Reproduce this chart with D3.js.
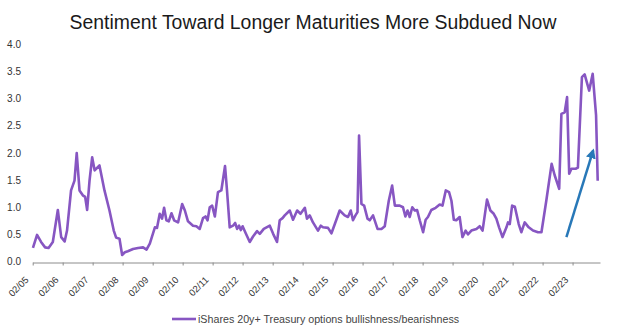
<!DOCTYPE html>
<html>
<head>
<meta charset="utf-8">
<script src="https://cdn.jsdelivr.net/npm/d3@7"></script>
<style>
  body { margin: 0; background: #fff; }
  svg { display: block; font-family: "Liberation Sans", Arial, sans-serif; }
</style>
</head>
<body>
<svg id="sentiment-chart"></svg>
<script>
// iShares 20y+ Treasury options, bullishness/bearishness ratio
const dates = [
  "2005-02-04", "2005-03-26", "2005-05-14", "2005-07-02", "2005-08-13", "2005-10-04", "2005-12-04",
  "2006-01-14", "2006-02-25", "2006-03-26", "2006-05-14", "2006-06-25", "2006-07-22", "2006-08-25",
  "2006-10-04", "2006-11-02", "2006-11-26", "2006-12-25", "2007-01-26", "2007-02-25", "2007-04-25",
  "2007-06-25", "2007-08-25", "2007-10-16", "2007-11-14", "2007-12-25", "2008-01-26", "2008-02-28",
  "2008-04-04", "2008-06-07", "2008-08-07", "2008-10-07", "2008-11-18", "2008-12-28", "2009-02-28",
  "2009-03-26", "2009-04-28", "2009-05-26", "2009-06-20", "2009-07-18", "2009-08-16", "2009-09-18",
  "2009-10-20", "2009-12-07", "2010-01-26", "2010-02-28", "2010-04-07", "2010-06-07", "2010-07-18",
  "2010-08-28", "2010-10-07", "2010-11-06", "2010-12-01", "2010-12-28", "2011-01-26", "2011-02-28",
  "2011-04-07", "2011-05-18", "2011-07-02", "2011-07-26", "2011-08-28", "2011-10-07", "2011-11-02",
  "2011-11-26", "2011-12-20", "2012-01-10", "2012-02-01", "2012-03-10", "2012-04-28", "2012-06-07",
  "2012-07-26", "2012-08-28", "2012-10-16", "2012-12-28", "2013-02-07", "2013-03-26", "2013-04-28",
  "2013-06-01", "2013-06-28", "2013-08-28", "2013-10-07", "2013-11-26", "2014-01-06", "2014-02-28",
  "2014-03-26", "2014-04-28", "2014-06-07", "2014-08-07", "2014-09-10", "2014-10-07", "2014-12-07",
  "2015-01-18", "2015-02-28", "2015-04-28", "2015-06-28", "2015-08-07", "2015-09-10", "2015-10-07",
  "2015-11-06", "2015-12-01", "2015-12-20", "2016-01-18", "2016-02-20", "2016-04-01", "2016-04-28",
  "2016-06-07", "2016-08-01", "2016-09-18", "2016-10-28", "2016-12-16", "2017-01-26", "2017-02-28",
  "2017-04-28", "2017-06-07", "2017-07-06", "2017-08-01", "2017-08-28", "2017-09-28", "2017-10-28",
  "2017-11-26", "2017-12-28", "2018-02-07", "2018-03-10", "2018-04-07", "2018-05-18", "2018-07-10",
  "2018-08-28", "2018-10-01", "2018-11-10", "2018-12-20", "2019-01-18", "2019-02-16", "2019-03-18",
  "2019-04-28", "2019-06-01", "2019-07-10", "2019-08-07", "2019-09-18", "2019-11-18", "2019-12-28",
  "2020-02-01", "2020-03-26", "2020-05-06", "2020-06-16", "2020-07-18", "2020-08-20", "2020-10-01",
  "2020-11-18", "2020-12-07", "2020-12-28", "2021-01-26", "2021-02-28", "2021-04-16", "2021-05-18",
  "2021-06-28", "2021-08-16", "2021-10-07", "2021-12-07", "2022-01-18", "2022-03-18", "2022-05-22",
  "2022-06-28", "2022-08-22", "2022-09-18", "2022-10-28", "2022-11-26", "2022-12-22", "2023-01-18",
  "2023-03-10", "2023-04-07", "2023-05-26", "2023-06-28", "2023-08-22", "2023-10-04", "2023-11-14",
  "2023-12-04"
];
const ratios = [
  0.25, 0.49, 0.36, 0.26, 0.25, 0.36, 0.95,
  0.45, 0.37, 0.57, 1.31, 1.49, 2.00, 1.31,
  1.22, 1.19, 0.95, 1.49, 1.92, 1.68, 1.77,
  1.31, 0.94, 0.57, 0.44, 0.42, 0.12, 0.17,
  0.19, 0.23, 0.25, 0.26, 0.22, 0.33, 0.63,
  0.62, 0.88, 0.79, 0.99, 0.76, 0.74, 0.89,
  0.76, 0.72, 1.06, 0.94, 0.74, 0.66, 0.65,
  0.60, 0.80, 0.83, 0.76, 1.00, 1.03, 0.83,
  1.28, 1.31, 1.76, 1.31, 0.63, 0.66, 0.71,
  0.60, 0.66, 0.58, 0.65, 0.52, 0.36, 0.46,
  0.56, 0.51, 0.60, 0.66, 0.51, 0.36, 0.76,
  0.80, 0.85, 0.94, 0.77, 0.94, 0.88, 0.99,
  0.79, 0.85, 0.72, 0.57, 0.66, 0.63, 0.62,
  0.52, 0.69, 0.94, 0.85, 0.82, 0.94, 0.76,
  0.85, 0.91, 2.32, 1.06, 1.03, 0.79, 0.76,
  0.85, 0.60, 0.60, 0.65, 1.12, 1.40, 1.03,
  1.03, 1.00, 0.83, 0.94, 0.82, 1.00, 0.94,
  0.95, 0.76, 0.54, 0.77, 0.82, 0.95, 0.99,
  1.05, 1.03, 1.31, 1.28, 1.12, 0.77, 0.76,
  0.82, 0.45, 0.57, 0.50, 0.57, 0.60, 0.65,
  0.57, 1.14, 0.94, 0.88, 0.79, 0.63, 0.45,
  0.63, 0.72, 0.69, 1.03, 1.01, 0.69, 0.54,
  0.72, 0.63, 0.57, 0.54, 0.54, 1.12, 1.80,
  1.59, 1.34, 2.72, 2.75, 3.03, 1.62, 1.71,
  1.71, 1.73, 3.40, 3.45, 3.15, 3.46, 2.70,
  1.49
];
const yTicks = [0, 0.5, 1, 1.5, 2, 2.5, 3, 3.5, 4];
const tickYears = [2005, 2006, 2007, 2008, 2009, 2010, 2011, 2012, 2013, 2014,
  2015, 2016, 2017, 2018, 2019, 2020, 2021, 2022, 2023];
// trend arrow, start and end
const arrowDates = ["2022-11-18", "2023-10-10"];
const arrowValues = [0.45, 2.05];
const titleText = "Sentiment Toward Longer Maturities More Subdued Now";
const legendText = "iShares 20y+ Treasury options bullishness/bearishness";

class SentimentChart {
  constructor() {
    var parseDate = d3.timeParse("%Y-%m-%d");
    this.data = dates.map(function(d, i) {
      return {date: parseDate(d), value: +ratios[i]};
    });
    this.arrow = arrowDates.map(function(d, i) {
      return {date: parseDate(d), value: arrowValues[i]};
    });
    this.lineColour = "#8756c2";
    this.arrowColour = "#2878b8";
  }

  build() {
    this.buildGraph();
    this.addAxis();
    this.addLine();
    this.addArrow();
    this.addLegend();
  }

  buildGraph() {
    this.width = 620;
    this.height = 332;
    this.svg = d3.select("#sentiment-chart")
        .attr("width", this.width)
        .attr("height", this.height);

    this.x = d3.scaleTime()
        .domain([new Date(2005, 1, 1), new Date(2024, 0, 1)])
        .range([32.7, 600]);
    this.y = d3.scaleLinear()
        .domain([0, 4])
        .range([261.5, 44.5]);

    this.svg.append("text")
        .attr("x", 313)
        .attr("y", 29)
        .attr("text-anchor", "middle")
        .style("font-size", "19.4px")
        .style("fill", "#1a1a1a")
        .text(titleText);
  }

  addAxis() {
    const svg = this.svg;
    const ticks = tickYears.map(function(yr) { return new Date(yr, 1, 1); });

    // bottom axis, labels turned 45 degrees
    const xAxis = svg.append("g")
        .attr("class", "sentiment__x-axis")
        .attr("transform", `translate(0, ${this.y(0) + 1})`)
        .call(d3.axisBottom(this.x)
            .tickValues(ticks)
            .tickSize(3)
            .tickSizeOuter(0)
            .tickFormat(d3.timeFormat("%m/%y")));
    xAxis.select(".domain").attr("stroke", "#8c8c8c");
    xAxis.selectAll(".tick line").attr("stroke", "#8c8c8c");
    xAxis.selectAll(".tick text")
        .attr("x", 0)
        .attr("y", 0)
        .attr("dy", 0)
        .attr("transform", "translate(-4, 18) rotate(-45)")
        .attr("text-anchor", "end")
        .style("font-family", "'Liberation Sans', Arial, sans-serif")
        .style("font-size", "9.5px")
        .style("fill", "#333");

    // value labels only, no axis line
    const yLabels = svg.append("g").attr("class", "sentiment__y-labels");
    for (var i = 0; i < yTicks.length; i++) {
      yLabels.append("text")
          .attr("x", 21)
          .attr("y", this.y(yTicks[i]))
          .attr("dy", "0.35em")
          .attr("text-anchor", "end")
          .style("font-size", "10px")
          .style("fill", "#333")
          .text(d3.format(".1f")(yTicks[i]));
    }
  }

  addLine() {
    var chart = this;
    chart.ratioLine = d3.line()
        .x(function(d) { return chart.x(d.date); })
        .y(function(d) { return chart.y(d.value); });

    chart.svg.append("path")
        .data([chart.data])
        .attr("class", "sentiment__line")
        .style("stroke", chart.lineColour)
        .style("fill", "none")
        .style("stroke-width", 2.6)
        .style("stroke-linejoin", "round")
        .attr("d", chart.ratioLine);
  }

  addArrow() {
    var chart = this;
    chart.svg.append("defs").append("marker")
        .attr("id", "arrow-head")
        .attr("viewBox", "0 0 10 10")
        .attr("refX", 8)
        .attr("refY", 5)
        .attr("markerWidth", 4)
        .attr("markerHeight", 4)
        .attr("orient", "auto")
      .append("path")
        .attr("d", "M0,0 L10,5 L0,10 z")
        .style("fill", chart.arrowColour);

    chart.svg.append("line")
        .attr("x1", chart.x(chart.arrow[0].date))
        .attr("y1", chart.y(chart.arrow[0].value))
        .attr("x2", chart.x(chart.arrow[1].date))
        .attr("y2", chart.y(chart.arrow[1].value))
        .attr("stroke", chart.arrowColour)
        .attr("stroke-width", 2.5)
        .attr("marker-end", "url(#arrow-head)");
  }

  addLegend() {
    const key = this.svg.append("g")
        .attr("class", "sentiment__key")
        .attr("transform", "translate(172, 319)");
    key.append("line")
        .attr("x1", 0)
        .attr("y1", 0)
        .attr("x2", 24)
        .attr("y2", 0)
        .attr("stroke-width", 2.6)
        .attr("stroke", this.lineColour);
    key.append("text")
        .attr("x", 26)
        .attr("y", 0)
        .attr("dy", "0.35em")
        .style("font-size", "10.7px")
        .style("fill", "#444")
        .text(legendText);
  }
}

new SentimentChart().build();
</script>
</body>
</html>
